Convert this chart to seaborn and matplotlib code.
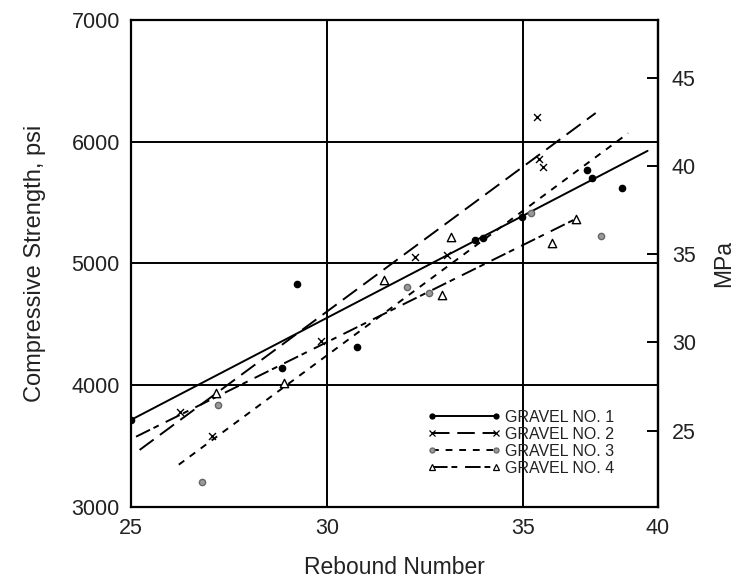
import numpy as np
import pandas as pd
import matplotlib
matplotlib.use("Agg")
import matplotlib.pyplot as plt
import seaborn as sns
from matplotlib.lines import Line2D

# ---------------- data ----------------
g1_x = [25.0, 29.25, 28.86, 30.78, 33.77, 33.98, 34.98, 37.36, 37.56, 38.66]
g1_y = [3715, 4830, 4142, 4314, 5193, 5212, 5385, 5768, 5700, 5618]
g2_x = [26.26, 27.07, 29.84, 32.24, 33.08, 35.52, 35.60, 35.75]
g2_y = [3780, 3583, 4361, 5056, 5070, 6206, 5856, 5796]
g3_x = [26.82, 27.22, 32.05, 32.60, 35.30, 37.90]
g3_y = [3205, 3840, 4807, 4760, 5417, 5229]
g4_x = [27.18, 28.90, 31.46, 32.93, 33.16, 36.10, 36.97]
g4_y = [3939, 4018, 4865, 4739, 5220, 5166, 5363]

# fitted lines (end points)
fit1_x = [25.0, 39.62]
fit1_y = [3715, 5925]
fit2_x = [25.22, 37.7]
fit2_y = [3468, 6236]
fit3_x = [26.22, 38.9]
fit3_y = [3347, 6070]
fit4_x = [25.13, 36.96]
fit4_y = [3577, 5366]

labels = ["GRAVEL NO. 1", "GRAVEL NO. 2", "GRAVEL NO. 3", "GRAVEL NO. 4"]
x_ticks = [25, 30, 35, 40]
y_ticks = [3000, 4000, 5000, 6000, 7000]
mpa_ticks = [25, 30, 35, 40, 45]

# ---------------- style ----------------
sns.set_theme(style="white")
plt.rcParams["font.family"] = ["Liberation Sans", "DejaVu Sans"]
plt.rcParams["text.color"] = "#222222"
plt.rcParams["axes.labelcolor"] = "#222222"
plt.rcParams["xtick.color"] = "#222222"
plt.rcParams["ytick.color"] = "#222222"

fig = plt.figure(figsize=(7.4, 5.8), dpi=100)
ax = fig.add_axes([0.177, 0.126, 0.712, 0.8395])

# piecewise-linear x scale: the 35-40 span is narrower than the others
K = 0.69
def fwd(x):
    x = np.asarray(x, dtype=float)
    return np.where(x <= 35, x, 35 + (x - 35) * K)
def inv(u):
    u = np.asarray(u, dtype=float)
    return np.where(u <= 35, u, 35 + (u - 35) / K)
ax.set_xscale("function", functions=(fwd, inv))

series = [
    dict(x=g1_x, y=g1_y, fx=fit1_x, fy=fit1_y, dashes=None,
         marker="o", ms=4.5, mfc="black", mec="black"),
    dict(x=g2_x, y=g2_y, fx=fit2_x, fy=fit2_y, dashes=(9, 4),
         marker="x", ms=5, mfc="black", mec="black"),
    dict(x=g3_x, y=g3_y, fx=fit3_x, fy=fit3_y, dashes=(3.5, 3.5),
         marker="o", ms=4.5, mfc="#9a9a9a", mec="#666666"),
    dict(x=g4_x, y=g4_y, fx=fit4_x, fy=fit4_y, dashes=(8, 2, 3, 4),
         marker="^", ms=6, mfc="white", mec="black"),
]

for s in series:
    df_pts = pd.DataFrame({"x": s["x"], "y": s["y"]})
    sns.scatterplot(data=df_pts, x="x", y="y", ax=ax, marker=s["marker"],
                    s=s["ms"] ** 2, color=s["mfc"], edgecolor=s["mec"],
                    linewidth=1.0, zorder=4, legend=False)
    df_fit = pd.DataFrame({"x": s["fx"], "y": s["fy"]})
    sns.lineplot(data=df_fit, x="x", y="y", ax=ax, color="black",
                 lw=1.4, zorder=3, legend=False, sort=False)
    if s["dashes"] is not None:
        ax.lines[-1].set_dashes(s["dashes"])

# legend proxies
handles = []
for s in series:
    h = Line2D([0, 1], [0, 0], color="black", lw=1.4, marker=s["marker"],
               ms=s["ms"] * 0.8, mfc=s["mfc"], mec=s["mec"], mew=0.9)
    if s["dashes"] is not None:
        h.set_dashes(s["dashes"])
    handles.append(h)
leg = ax.legend(handles, labels, loc="lower right", bbox_to_anchor=(0.945, 0.035),
                frameon=False, numpoints=2, handlelength=4.6, handletextpad=0.3,
                labelspacing=0.12, fontsize=11.5)
for t in leg.get_texts():
    t.set_color("#222222")

ax.set_xlim(25, 40)
ax.set_ylim(3000, 7000)
ax.set_xticks(x_ticks)
ax.set_yticks(y_ticks)
ax.set_xticklabels([str(v) for v in x_ticks])
ax.set_yticklabels([str(v) for v in y_ticks])
ax.grid(True, color="black", lw=1.4)
ax.set_axisbelow(True)
for sp in ax.spines.values():
    sp.set_visible(True)
    sp.set_color("black")
    sp.set_linewidth(1.6)
ax.tick_params(axis="both", length=0, labelsize=15.5, pad=8)
ax.set_xlabel("Rebound Number", fontsize=16.5, labelpad=12)
ax.set_ylabel("Compressive Strength, psi", fontsize=17, labelpad=18)

# secondary MPa axis
sec = ax.secondary_yaxis("right", functions=(lambda p: p / 145.04, lambda m: m * 145.04))
sec.set_yticks(mpa_ticks)
sec.set_yticklabels([str(v) for v in mpa_ticks])
sec.tick_params(axis="y", direction="in", length=8, width=1.4, labelsize=15.5, pad=10, color="black")
sec.spines["right"].set_linewidth(1.6)
sec.set_ylabel("MPa", fontsize=16.5, labelpad=12)

fig.savefig("out.png", dpi=100)
